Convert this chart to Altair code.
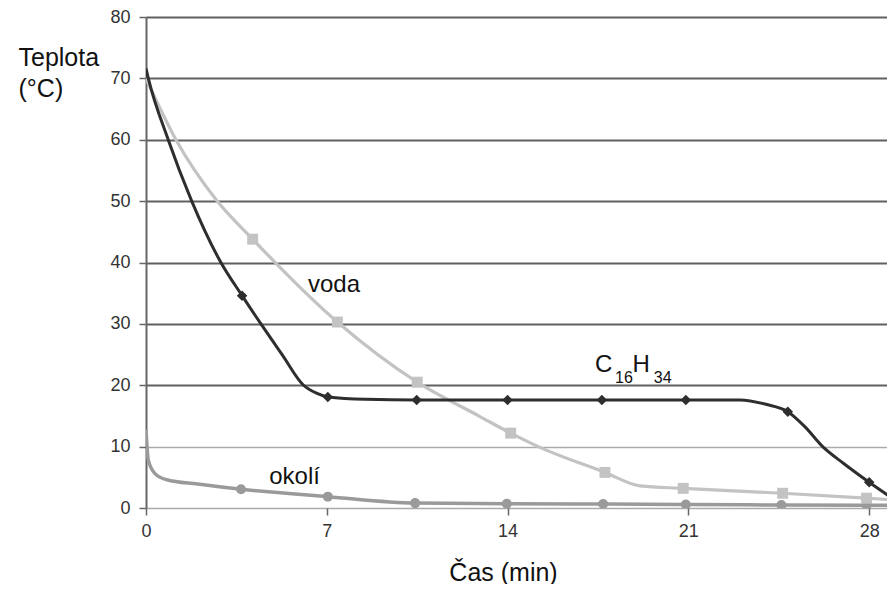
import altair as alt
import pandas as pd

# ---- data ----
c16_t = [0, 0.09, 0.86, 1.77, 2.9, 3.72, 4.45, 5.27, 6.1, 6.6, 7.04, 8.5, 10.48, 14.0, 17.65, 20.9, 23.0, 24.0, 24.85, 25.5, 26.2, 27.0, 28.0, 29.0]
c16_v = [71.6, 70.0, 60.0, 50.0, 40.0, 34.6, 30.0, 25.0, 20.0, 18.7, 18.1, 17.7, 17.6, 17.6, 17.6, 17.6, 17.6, 16.9, 15.7, 13.3, 10.0, 7.3, 4.2, 1.3]
c16_mt = [3.72, 7.04, 10.48, 14.0, 17.65, 20.9, 24.85, 28.0]
c16_mv = [34.6, 18.1, 17.6, 17.6, 17.6, 17.6, 15.7, 4.2]

voda_t = [0, 1.16, 2.7, 4.13, 7.41, 10.5, 12.93, 14.12, 15.19, 17.77, 19.13, 20.8, 24.65, 27.9, 29.0]
voda_v = [70.0, 60.0, 50.3, 43.8, 30.3, 20.5, 14.9, 12.2, 10.0, 5.8, 3.6, 3.2, 2.4, 1.6, 1.3]
voda_mt = [4.13, 7.41, 10.5, 14.12, 17.77, 20.8, 24.65, 27.9]
voda_mv = [43.8, 30.3, 20.5, 12.2, 5.8, 3.2, 2.4, 1.6]

okoli_t = [0, 0.09, 0.35, 0.8, 2.0, 3.68, 7.04, 10.42, 13.97, 17.7, 20.9, 24.6, 27.9, 29.0]
okoli_v = [12.7, 7.8, 5.6, 4.6, 3.9, 3.05, 1.85, 0.8, 0.7, 0.65, 0.55, 0.5, 0.45, 0.45]
okoli_mt = [3.68, 7.04, 10.42, 13.97, 17.7, 20.9, 24.6, 27.9]
okoli_mv = [3.05, 1.85, 0.8, 0.7, 0.65, 0.55, 0.5, 0.45]

x_ticks = [0, 7, 14, 21, 28]
y_ticks = [0, 10, 20, 30, 40, 50, 60, 70, 80]

# annotation labels
lab_text = ["voda", "okolí", "C", "H"]
lab_t = [6.27, 4.77, 17.38, 18.84]
lab_v = [35.2, 3.9, 22.2, 22.2]
sub_text = ["16", "34"]
sub_t = [18.16, 19.66]
sub_v = [20.3, 20.3]

FONT = "Liberation Sans"

xscale = alt.Scale(domain=[0, 29], nice=False, zero=False)
yscale = alt.Scale(domain=[0, 80], nice=False)

x_axis = alt.Axis(
    values=x_ticks, grid=False, domain=False, ticks=True, tickSize=7,
    tickColor="#666", tickWidth=1.5, labelFlush=False, labelPadding=7,
    labelFont=FONT, labelFontSize=18, labelColor="#333",
    title="Čas (min)", titleFont=FONT, titleFontSize=25, titleFontWeight="normal",
    titleColor="#111", titleX=357, titleY=72, titleAlign="center",
    titleBaseline="alphabetic", titleAnchor="start",
)
y_axis = alt.Axis(
    values=y_ticks, grid=True,
    gridColor=alt.condition("datum.value <= 10", alt.value("#aaaaaa"), alt.value("#606060")),
    gridWidth=alt.condition("datum.value <= 10", alt.value(1.5), alt.value(2)),
    domain=True, domainColor="#666", domainWidth=2,
    ticks=True, tickSize=7, tickColor="#666", tickWidth=1.5,
    labelFlush=False, labelPadding=9,
    labelFont=FONT, labelFontSize=18, labelColor="#333",
    title=["Teplota", "(°C)"], titleFont=FONT, titleFontSize=25, titleFontWeight="normal",
    titleColor="#111", titleAngle=0, titleX=-128, titleY=48, titleAlign="left",
    titleBaseline="alphabetic", titleLineHeight=31,
)


def series(t, v, mt, mv, color, width, shape, size):
    ld = pd.DataFrame({"t": t, "v": v})
    md = pd.DataFrame({"t": mt, "v": mv})
    line = alt.Chart(ld).mark_line(
        color=color, strokeWidth=width, interpolate="monotone", clip=True
    ).encode(
        x=alt.X("t:Q", scale=xscale, axis=x_axis),
        y=alt.Y("v:Q", scale=yscale, axis=y_axis),
    )
    pts = alt.Chart(md).mark_point(
        shape=shape, filled=True, opacity=1, color=color, size=size, clip=True
    ).encode(x=alt.X("t:Q", scale=xscale), y=alt.Y("v:Q", scale=yscale))
    return line + pts


okoli = series(okoli_t, okoli_v, okoli_mt, okoli_mv, "#9a9a9a", 3.5, "circle", 100)
voda = series(voda_t, voda_v, voda_mt, voda_mv, "#c3c3c3", 3.2, "square", 120)
c16 = series(c16_t, c16_v, c16_mt, c16_mv, "#2e2e2e", 3, "diamond", 110)

labels = alt.Chart(pd.DataFrame({"t": lab_t, "v": lab_v, "s": lab_text})).mark_text(
    font=FONT, fontSize=24, color="#111", align="left", baseline="alphabetic"
).encode(x=alt.X("t:Q", scale=xscale), y=alt.Y("v:Q", scale=yscale), text="s:N")

subs = alt.Chart(pd.DataFrame({"t": sub_t, "v": sub_v, "s": sub_text})).mark_text(
    font=FONT, fontSize=16, color="#111", align="left", baseline="alphabetic"
).encode(x=alt.X("t:Q", scale=xscale), y=alt.Y("v:Q", scale=yscale), text="s:N")

chart = alt.layer(okoli, voda, c16, labels, subs).properties(
    width=749, height=491,
    autosize=alt.AutoSizeParams(type="none"),
    padding={"left": 138, "top": 9, "right": -8, "bottom": 76},
).configure_view(stroke=None).configure(background="white")

chart.save("out.html", embed_options={"renderer": "svg", "actions": False})
